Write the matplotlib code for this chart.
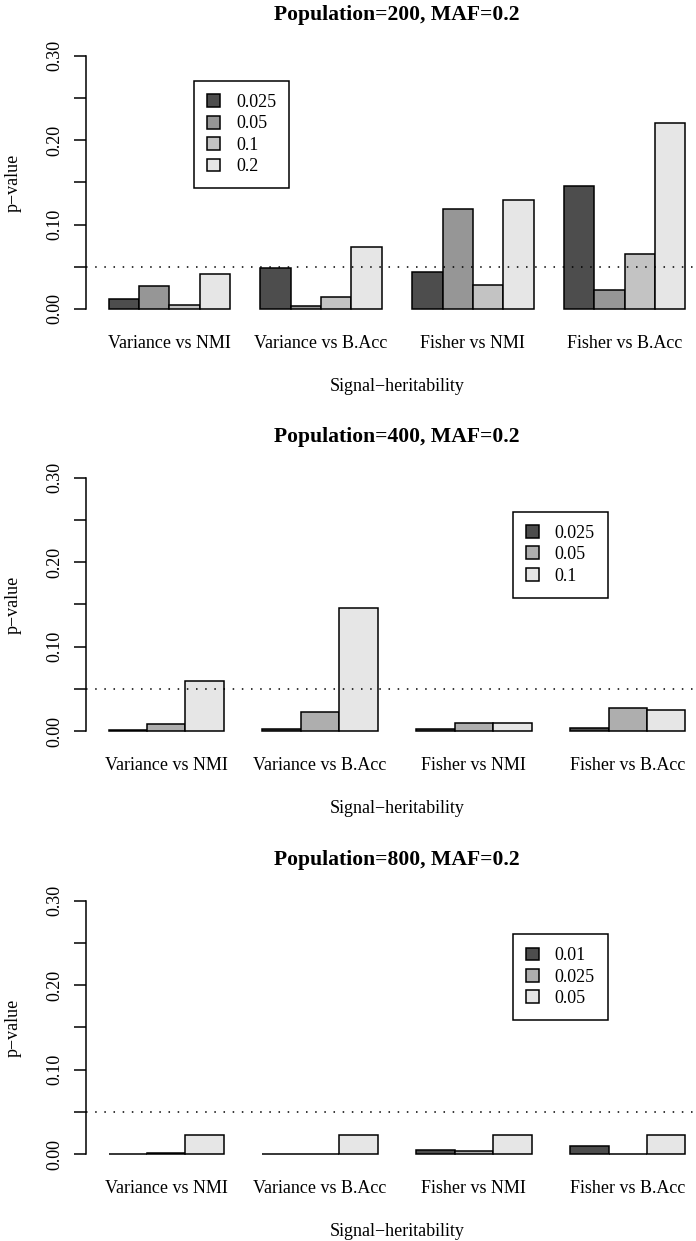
import matplotlib.pyplot as plt
from matplotlib.patches import Patch

FIG_W, FIG_H = 696, 1241

GROUPS = ["Variance vs NMI", "Variance vs B.Acc", "Fisher vs NMI", "Fisher vs B.Acc"]
TITLES = ["Population=200, MAF=0.2", "Population=400, MAF=0.2", "Population=800, MAF=0.2"]

# signal-heritability levels shown in each panel
LEVELS_200 = ["0.025", "0.05", "0.1", "0.2"]
LEVELS_400 = ["0.025", "0.05", "0.1"]
LEVELS_800 = ["0.01", "0.025", "0.05"]

# p-values: one row per heritability level, one column per comparison
PVAL_200 = [
    [0.012, 0.049, 0.044, 0.146],
    [0.027, 0.003, 0.118, 0.022],
    [0.005, 0.014, 0.028, 0.065],
    [0.041, 0.073, 0.129, 0.220],
]
PVAL_400 = [
    [0.001, 0.002, 0.002, 0.004],
    [0.008, 0.022, 0.010, 0.027],
    [0.059, 0.146, 0.009, 0.025],
]
PVAL_800 = [
    [0.0003, 0.0003, 0.005, 0.010],
    [0.001, 0.0003, 0.003, 0.0005],
    [0.023, 0.023, 0.023, 0.023],
]

ALPHA = 0.05
YTICKS = [0.0, 0.05, 0.10, 0.15, 0.20, 0.25, 0.30]
YLABELS = ["0.00", "", "0.10", "", "0.20", "", "0.30"]

# R's gray.colors(n)
GRAYS = {4: ["#4D4D4D", "#969696", "#C3C3C3", "#E6E6E6"],
         3: ["#4D4D4D", "#AEAEAE", "#E6E6E6"]}

# layout, in pixels of the final image
ZERO_PX = [309, 731, 1154]
LEGEND_PX = [(194, 81), (512.5, 511.7), (512.5, 934.3)]
PX_PER_UNIT = 844
AX_LEFT_PX = 85.5
AX_WIDTH_PX = 623
XLABEL_TOP_PX = 69  # below the zero line
YLIM = (-0.012, 0.312)
LW = 1.1


def draw_panel(fig, title, levels, pvals, zero_px, legend_px):
    bottom_px = zero_px - YLIM[0] * PX_PER_UNIT
    top_px = zero_px - YLIM[1] * PX_PER_UNIT
    ax_h_px = bottom_px - top_px
    ax = fig.add_axes([AX_LEFT_PX / FIG_W, 1 - bottom_px / FIG_H,
                       AX_WIDTH_PX / FIG_W, ax_h_px / FIG_H])

    n = len(levels)
    colors = GRAYS[n]
    handles = []
    for j, (level, vals) in enumerate(zip(levels, pvals)):
        x = [1 + g * (n + 1) + j for g in range(len(GROUPS))]
        ax.bar(x, vals, width=1, align="edge", color=colors[j],
               edgecolor="black", linewidth=LW)
        handles.append(Patch(facecolor=colors[j], edgecolor="black", linewidth=LW))

    right = len(GROUPS) * (n + 1)
    ext = 0.04 * (right - 1)
    ax.set_xlim(1 - ext, right + ext)
    ax.set_ylim(*YLIM)

    ax.axhline(ALPHA, color="black", linewidth=LW, linestyle=(0, (1, 5)))

    for side in ("top", "right", "bottom"):
        ax.spines[side].set_visible(False)
    ax.spines["left"].set_bounds(0, 0.30)
    ax.spines["left"].set_linewidth(LW)

    ax.set_yticks(YTICKS, YLABELS)
    ax.tick_params(axis="y", length=8.4, width=LW, pad=7.8, labelsize=13,
                   labelrotation=90)
    for lab in ax.get_yticklabels():
        lab.set_va("center")

    centers = [1 + g * (n + 1) + n / 2 for g in range(len(GROUPS))]
    ax.set_xticks(centers, GROUPS)
    ax.tick_params(axis="x", length=0, pad=11.6, labelsize=13)

    ax.set_xlabel("Signal\u2212heritability", fontsize=13)
    ax.xaxis.set_label_coords(0.5, -(zero_px + XLABEL_TOP_PX - bottom_px) / ax_h_px)
    ax.set_ylabel("p\u2212value", fontsize=13)
    ax.yaxis.set_label_coords((21.4 - AX_LEFT_PX) / AX_WIDTH_PX,
                              (bottom_px - (zero_px - 126.5)) / ax_h_px)

    ax.set_title(title, fontsize=15.6, fontweight="bold", pad=18.6)

    leg = ax.legend(handles, levels, loc="upper left",
                    bbox_to_anchor=(legend_px[0] / FIG_W, 1 - legend_px[1] / FIG_H),
                    bbox_transform=fig.transFigure, borderaxespad=0,
                    fontsize=13, frameon=True, fancybox=False, framealpha=1,
                    edgecolor="black", handlelength=0.72, handleheight=0.72,
                    handletextpad=0.9, labelspacing=0.245, borderpad=0.72)
    leg.get_frame().set_linewidth(LW)


def main():
    plt.rcParams["font.family"] = ["Liberation Serif", "DejaVu Serif"]
    fig = plt.figure(figsize=(FIG_W / 100, FIG_H / 100), dpi=100)

    panels = [(LEVELS_200, PVAL_200), (LEVELS_400, PVAL_400), (LEVELS_800, PVAL_800)]
    for title, (levels, pvals), zero_px, legend_px in zip(TITLES, panels, ZERO_PX, LEGEND_PX):
        draw_panel(fig, title, levels, pvals, zero_px, legend_px)

    fig.savefig("out.png", dpi=100)


if __name__ == "__main__":
    main()
